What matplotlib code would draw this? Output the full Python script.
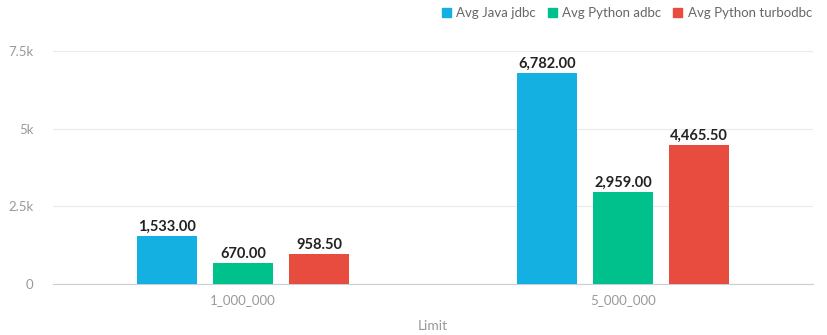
import numpy as np
import matplotlib.pyplot as plt
from matplotlib.patches import Patch

plt.rcParams['font.family'] = ['Lato', 'DejaVu Sans']

# 数据
limits = ['1_000_000', '5_000_000']
series = ['Avg Java jdbc', 'Avg Python adbc', 'Avg Python turbodbc']
java_jdbc = [1533.00, 6782.00]
python_adbc = [670.00, 2959.00]
python_turbodbc = [958.50, 4465.50]
colors = ['#14b0e2', '#00c08b', '#e84c3f']

values = [java_jdbc, python_adbc, python_turbodbc]

fig = plt.figure(figsize=(8.27, 3.35), dpi=100)
ax = fig.add_axes([53 / 827, 51 / 335, 760 / 827, 233 / 335])

x = np.arange(len(limits))
width = 60 / 380
step = 76 / 380
for i, (vals, c) in enumerate(zip(values, colors)):
    pos = x + (i - 1) * step
    ax.bar(pos, vals, width=width, color=c, zorder=3)
    for p, v in zip(pos, vals):
        ax.text(p, v + 70, '{:,.2f}'.format(v), ha='center', va='bottom',
                fontsize=10.5, fontweight='bold', color='#222222')

ax.set_xlim(-0.5, 1.5)
ax.set_ylim(0, 7500)
ax.set_yticks([0, 2500, 5000, 7500])
ax.set_yticklabels(['0', '2.5k', '5k', '7.5k'])
ax.set_xticks(x)
ax.set_xticklabels(limits)
ax.grid(axis='y', color='#ebebeb', linewidth=0.8, zorder=0)
for s in ['top', 'right', 'left']:
    ax.spines[s].set_visible(False)
ax.spines['bottom'].set_color('#c8cdd8')
ax.tick_params(axis='both', length=0, colors='#999999', labelsize=9.5)
ax.tick_params(axis='y', pad=14)
ax.tick_params(axis='x', pad=7)
ax.set_xlabel('Limit', color='#999999', fontsize=10, labelpad=10)

handles = [Patch(color=c, label=s) for c, s in zip(colors, series)]
fig.legend(handles=handles, loc='upper right', bbox_to_anchor=(0.996, 1.015), ncol=3,
           frameon=False, fontsize=9.5, handlelength=0.7, handleheight=0.7,
           handletextpad=0.4, columnspacing=0.9, labelcolor='#666666')

plt.savefig('out.png')
